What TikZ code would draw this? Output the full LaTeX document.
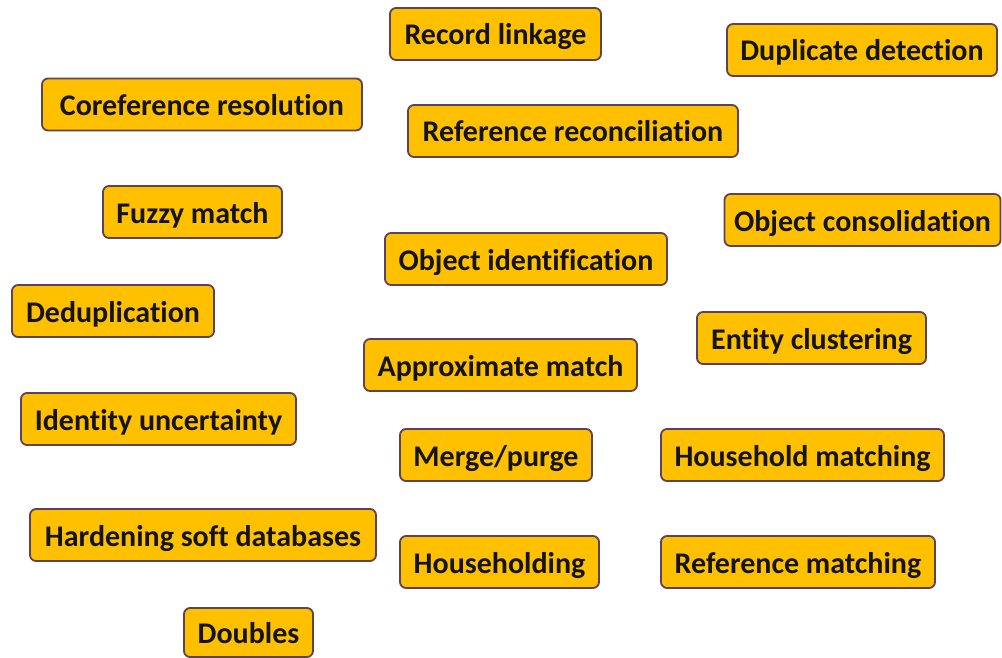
\documentclass[tikz,border=0pt]{standalone}
\usepackage{fontspec}
\setmainfont{Carlito}[Ligatures=NoCommon]
\definecolor{boxfill}{HTML}{FFC000}
\definecolor{boxdraw}{HTML}{5E4257}
\begin{document}
\begin{tikzpicture}[x=1pt,y=-1pt,
  term/.style={draw=boxdraw, fill=boxfill, line width=1.8pt, rounded corners=6pt,
    minimum height=52pt, inner sep=0pt, text height=28pt, text depth=6pt,
    font=\fontsize{30}{34}\selectfont\bfseries, text=black!92}]
\useasboundingbox (0,0) rectangle (1002,658);
\node[term, minimum width=211pt] (n1) at (495.5,34) {Record linkage};
\node[term, minimum width=270pt] (n2) at (862,50) {Duplicate detection};
\node[term, minimum width=320pt] (n3) at (202,104.5) {Coreference resolution};
\node[term, minimum width=330pt] (n4) at (573,131) {Reference reconciliation};
\node[term, minimum width=179pt] (n5) at (192.5,212) {Fuzzy match};
\node[term, minimum width=276pt] (n6) at (862.5,220) {Object consolidation};
\node[term, minimum width=282pt] (n7) at (526,259) {Object identification};
\node[term, minimum width=202pt] (n8) at (113,311) {Deduplication};
\node[term, minimum width=229pt] (n9) at (811.5,338) {Entity clustering};
\node[term, minimum width=273pt] (n10) at (500.5,365) {Approximate match};
\node[term, minimum width=275pt] (n11) at (158.5,419) {Identity uncertainty};
\node[term, minimum width=192pt] (n12) at (496,455) {Merge/purge};
\node[term, minimum width=283pt] (n13) at (802.5,455) {Household matching};
\node[term, minimum width=346pt] (n14) at (203,535) {Hardening soft databases};
\node[term, minimum width=199pt] (n15) at (499.5,562) {Householding};
\node[term, minimum width=274pt] (n16) at (798,562) {Reference matching};
\node[term, minimum width=129pt, minimum height=49pt] (n17) at (248.5,632.5) {Doubles};
\end{tikzpicture}
\end{document}
